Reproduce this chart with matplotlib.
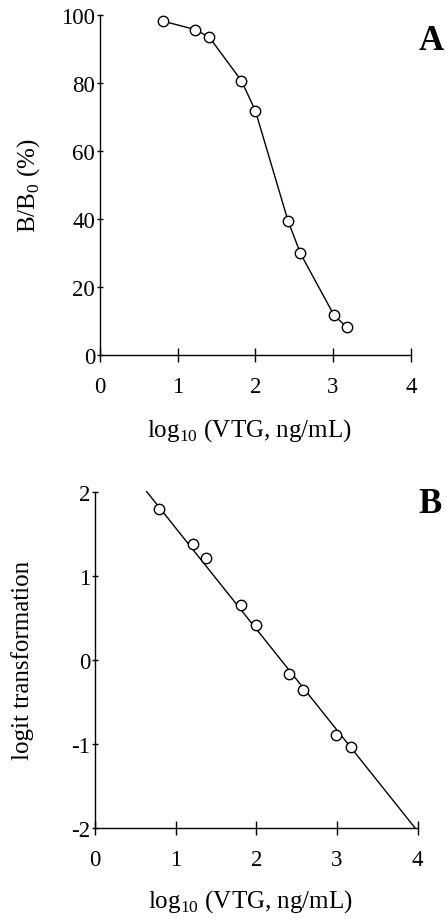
import numpy as np
import matplotlib.pyplot as plt

plt.rcParams['font.family'] = ['Liberation Serif', 'DejaVu Serif']
plt.rcParams['mathtext.fontset'] = 'custom'
plt.rcParams['mathtext.rm'] = 'Liberation Serif'
plt.rcParams['axes.unicode_minus'] = False

# panel A: competitive binding curve
logvtg_a = [0.81, 1.23, 1.41, 1.82, 2.00, 2.42, 2.58, 3.01, 3.18]
bb0 = [98.2, 95.7, 93.4, 80.7, 71.9, 39.5, 29.9, 11.8, 8.1]

# panel B: logit transformation and fitted line
logvtg_b = [0.79, 1.21, 1.38, 1.81, 1.99, 2.40, 2.58, 2.99, 3.17]
logit = [1.79, 1.38, 1.21, 0.65, 0.42, -0.17, -0.36, -0.89, -1.04]
fit_x = [0.64, 3.97]
fit_y = [2.0, -2.0]

fig = plt.figure(figsize=(4.46, 9.2), dpi=100)
axA = fig.add_axes([0.224, 0.613, 0.697, 0.3696])
axB = fig.add_axes([0.213, 0.0986, 0.7236, 0.366])

tfs = 16.5
lfs = 18
xlab = 'log$_{10}$ (VTG, ng/mL)'

axA.plot(logvtg_a, bb0, '-', color='black', lw=1.0, marker='o', ms=7.5,
         mfc='white', mec='black', mew=1.0, clip_on=False)
axA.set_xlim(0, 4)
axA.set_ylim(0, 100)
axA.set_xticks([0, 1, 2, 3, 4])
axA.set_yticks([0, 20, 40, 60, 80, 100])
axA.set_ylabel('B/B$_0$ (%)', fontsize=lfs, va='center')
axA.set_xlabel(xlab, fontsize=lfs, va='center')
axA.yaxis.set_label_coords(-0.228, 0.5)
axA.xaxis.set_label_coords(0.48, -0.218)
axA.text(1.067, 0.925, 'A', transform=axA.transAxes, fontsize=25,
         fontweight='bold', ha='center', va='center')

axB.plot(fit_x, fit_y, '-', color='black', lw=1.0, clip_on=False)
axB.plot(logvtg_b, logit, 'o', ms=7.5, mfc='white', mec='black', mew=1.0,
         clip_on=False)
axB.set_xlim(0, 4)
axB.set_ylim(-2, 2)
axB.set_xticks([0, 1, 2, 3, 4])
axB.set_yticks([-2, -1, 0, 1, 2])
axB.set_ylabel('logit transformation', fontsize=lfs, va='center')
axB.set_xlabel(xlab, fontsize=lfs, va='center')
axB.yaxis.set_label_coords(-0.226, 0.5)
axB.xaxis.set_label_coords(0.48, -0.216)
axB.text(1.038, 0.965, 'B', transform=axB.transAxes, fontsize=25,
         fontweight='bold', ha='center', va='center')

for ax in (axA, axB):
    for s in ('top', 'right'):
        ax.spines[s].set_visible(False)
    for s in ('left', 'bottom'):
        ax.spines[s].set_linewidth(1.0)
    ax.tick_params(axis='x', direction='inout', length=9.5, width=1.0,
                   labelsize=tfs, pad=10)
    ax.tick_params(axis='y', direction='inout', length=5, width=1.0,
                   labelsize=tfs, pad=1)

fig.savefig('out.png', dpi=100)
